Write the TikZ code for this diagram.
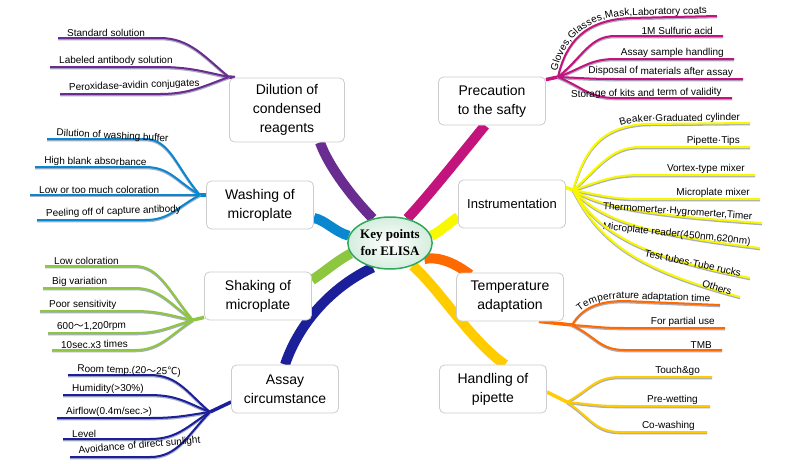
\documentclass[tikz,border=0pt]{standalone}
\usepackage{fontspec}
\setmainfont{Liberation Sans}
\newfontfamily\keyfont{Liberation Serif}
\newfontfamily\cjk{Noto Sans CJK JP}
\usetikzlibrary{shapes.geometric,decorations.text,backgrounds}

\definecolor{dilc}{HTML}{6B2C91}
\definecolor{washc}{HTML}{0A88CF}
\definecolor{shakec}{HTML}{8DC63F}
\definecolor{assayc}{HTML}{1B1F99}
\definecolor{precc}{HTML}{C3147E}
\definecolor{instrc}{HTML}{F8F800}
\definecolor{tempc}{HTML}{FF6A00}
\definecolor{handc}{HTML}{FFCC00}
\definecolor{keyc}{HTML}{2EA85A}
\definecolor{shadowc}{HTML}{A9AEC2}

\newcommand{\lblfont}{\fontsize{10}{12}\selectfont}

\tikzset{
  box/.style={draw=gray!40, line width=0.8pt, fill=white, rounded corners=5pt, align=center,
    font=\fontsize{14}{19}\selectfont, minimum width=107pt, minimum height=48pt, inner sep=2pt},
  trunk/.style={draw=#1, line width=10pt},
  stub/.style={draw=#1, line width=3.5pt},
  leaf/.style={draw=#1, line width=2pt,
    preaction={draw=shadowc, line width=2pt, transform canvas={yshift=-1.3pt}}},
  lbl/.style={font=\lblfont, inner sep=1pt},
  along/.style={postaction={decorate, decoration={text along path, text={|\lblfont|#1},
    text align={align=right, right indent=10pt}, raise=2.5pt, text color=black}}}
}

\begin{document}
\begin{tikzpicture}[x=1pt,y=-1pt]
\useasboundingbox (0,0) rectangle (800,463);

\node[ellipse, draw=keyc, line width=1.5pt, inner color=white, outer color=keyc!20,
  minimum width=75pt, minimum height=52pt, align=center, inner sep=0pt,
  font=\keyfont\bfseries\fontsize{13}{17}\selectfont] (key) at (390,243) {Key points\\for ELISA};

\node[box, minimum width=115pt, minimum height=64pt] (dil) at (287,110) {Dilution of\\condensed\\reagents};
\node[box] (wash) at (260,205) {Washing of\\microplate};
\node[box] (shake) at (258,296) {Shaking of\\microplate};
\node[box] (assay) at (285,389) {Assay\\circumstance};
\node[box] (prec) at (492,101) {Precaution\\to the safty};
\node[box, font=\fontsize{13}{17}\selectfont] (instr) at (512,204) {Instrumentation};
\node[box] (temp) at (510,297) {Temperature\\adaptation};
\node[box] (hand) at (493,389) {Handling of\\pipette};

\coordinate (dilfan) at (229,77);
\coordinate (washfan) at (200,195);
\coordinate (shakefan) at (193,320);
\coordinate (assayfan) at (210,412);
\coordinate (precfan) at (558,77);
\coordinate (instrfan) at (573,190);
\coordinate (tempfan) at (572,325);
\coordinate (handfan) at (567,402);

\begin{scope}[on background layer]
\draw[trunk=dilc] (key.125) .. controls (350,195) and (328,165) .. ([xshift=33pt]dil.south);
\draw[trunk=washc] (key.170) .. controls (335,232) and (325,220) .. ([yshift=-13pt]wash.east);
\draw[trunk=shakec] (key.195) .. controls (335,262) and (322,274) .. ([yshift=16pt]shake.east);
\draw[trunk=assayc] (key.235) .. controls (335,285) and (300,320) .. (assay.north);
\draw[trunk=precc] (key.55) .. controls (425,200) and (465,150) .. ([xshift=-7pt]prec.south);
\draw[trunk=instrc] (key.10) .. controls (440,232) and (450,222) .. ([yshift=-13pt]instr.west);
\draw[trunk=tempc] (key.-25) .. controls (440,256) and (456,264) .. ([xshift=14pt,yshift=-2pt]temp.north west);
\draw[trunk=handc] (key.-45) .. controls (440,290) and (470,340) .. ([xshift=12pt]hand.north);
\draw[stub=dilc] ([xshift=6pt]dil.north west) -- (dilfan);
\draw[stub=washc] ([yshift=10pt]wash.west) -- (washfan);
\draw[stub=shakec] ([yshift=3pt]shake.south west) -- (shakefan);
\draw[stub=assayc] ([yshift=-13pt]assay.west) -- (assayfan);
\draw[stub=precc] ([yshift=-3pt]prec.north east) -- (precfan);
\draw[stub=instrc] ([yshift=-8pt]instr.north east) -- (instrfan);
\draw[stub=tempc] ([xshift=-25pt]temp.south east) -- (tempfan);
\draw[stub=handc] ([yshift=-3pt]hand.east) -- (handfan);
\end{scope}

\foreach \n/\x/\y/\rot/\t in {1/58/38/0/Standard solution, 2/50/67/0/Labeled antibody solution,
    3/60/94/2/Peroxidase-avidin conjugates}{
  \coordinate (dil\n) at (\x,\y);
  \draw[leaf=dilc] (dilfan) .. controls (205,{77+0.5*(\y-77)}) and (190,\y) .. (160,\y) -- (dil\n);
  \node[lbl, anchor=south west, rotate=\rot] (dilt\n) at ([xshift=8pt]dil\n) {\t};
}
\foreach \n/\x/\y/\rot/\t in {1/47/139/-3/Dilution of washing buffer, 2/35/167/-1/High blank absorbance,
    3/30/195/0/Low or too much coloration, 4/37/220/2/Peeling off of capture antibody}{
  \coordinate (wash\n) at (\x,\y);
  \draw[leaf=washc] (washfan) .. controls (176,{195+0.5*(\y-195)}) and (170,\y) .. (145,\y) -- (wash\n);
  \node[lbl, anchor=south west, rotate=\rot] (washt\n) at ([xshift=8pt]wash\n) {\t};
}
\foreach \n/\x/\y/\rot/\t in {1/45/266/0/Low coloration, 2/43/288/0/Big variation, 3/40/311/0/Poor sensitivity,
    4/48/333/1/{600{\cjk ～}1,200rpm}, 5/52/350/1/10sec.x3 times}{
  \coordinate (shake\n) at (\x,\y);
  \draw[leaf=shakec] (shakefan) .. controls (170,{320+0.5*(\y-320)}) and (160,\y) .. (135,\y) -- (shake\n);
  \node[lbl, anchor=south west, rotate=\rot] (shaket\n) at ([xshift=8pt]shake\n) {\t};
}
\foreach \n/\x/\y/\rot/\t in {1/68/375/-2/{Room temp.(20{\cjk ～}25{\cjk ℃})}, 2/63/395/0/Humidity(>30\%),
    3/57/418/0/{Airflow(0.4m/sec.>)}, 4/63/439/0/Level, 5/70/457/5/Avoidance of direct sunlight}{
  \coordinate (assay\n) at (\x,\y);
  \draw[leaf=assayc] (assayfan) .. controls (188,{412+0.5*(\y-412)}) and (178,\y) .. (150,\y) -- (assay\n);
  \node[lbl, anchor=south west, rotate=\rot] (assayt\n) at ([xshift=8pt]assay\n) {\t};
}

\coordinate (prec1) at (717,16);
\draw[leaf=precc, along={Gloves,Glasses,Mask,Laboratory coats}]
  (precfan) .. controls (566,42) and (585,20) .. (630,18) -- (prec1);
\foreach \n/\x/\y/\rot/\t in {2/723/36/0/1M Sulfuric acid, 3/734/59/0/Assay sample handling,
    4/743/79/-1/Disposal of materials after assay, 5/732/98/1/Storage of kits and term of validity}{
  \coordinate (prec\n) at (\x,\y);
  \draw[leaf=precc] (precfan) .. controls (583,{77+0.5*(\y-77)}) and (590,\y) .. (615,\y) -- (prec\n);
  \node[lbl, anchor=south east, rotate=\rot] (prect\n) at ([xshift=-9pt]prec\n) {\t};
}

\coordinate (instr1) at (750,123);
\draw[leaf=instrc, along={Beaker·Graduated cylinder}]
  (instrfan) .. controls (585,150) and (600,127) .. (645,124) -- (instr1);
\foreach \n/\x/\y/\rot/\t in {2/750/147/0/Pipette·Tips, 3/755/175/0/Vortex-type mixer, 4/760/199/0/Microplate mixer}{
  \coordinate (instr\n) at (\x,\y);
  \draw[leaf=instrc] (instrfan) .. controls (598,{190+0.5*(\y-190)}) and (610,\y) .. (640,\y) -- (instr\n);
  \node[lbl, anchor=south east, rotate=\rot] (instrt\n) at ([xshift=-9pt]instr\n) {\t};
}
\foreach \n/\x/\y/\rot/\t in {5/762/223/-4/{Thermomerter·Hygromerter,Timer}, 6/760/248/-6/{Microplate reader(450nm,620nm)},
    7/750/278/-12/Test tubes·Tube rucks, 8/740/297/-18/Others}{
  \coordinate (instr\n) at (\x,\y);
  \draw[leaf=instrc] (instrfan) .. controls (600,{190+0.5*(\y-190)}) and (640,{\y-0.25*(\y-190)}) .. (instr\n);
  \node[lbl, anchor=south east, rotate=\rot] (instrt\n) at ([xshift=-9pt]instr\n) {\t};
}

\coordinate (temp1) at (720,305);
\draw[leaf=tempc, along={Temperrature adaptation time}]
  (tempfan) .. controls (582,308) and (598,301) .. (625,301) -- (temp1);
\foreach \n/\x/\y/\rot/\t in {2/725/328/0/For partial use, 3/722/350/0/TMB}{
  \coordinate (temp\n) at (\x,\y);
  \draw[leaf=tempc] (tempfan) .. controls (597,{325+0.5*(\y-325)}) and (600,\y) .. (625,\y) -- (temp\n);
  \node[lbl, anchor=south east, rotate=\rot] (tempt\n) at ([xshift=-9pt]temp\n) {\t};
}

\foreach \n/\x/\y/\rot/\t in {1/712/377/0/Touch\&go, 2/710/406/0/Pre-wetting, 3/707/432/0/Co-washing}{
  \coordinate (hand\n) at (\x,\y);
  \draw[leaf=handc] (handfan) .. controls (590,{402+0.5*(\y-402)}) and (595,\y) .. (620,\y) -- (hand\n);
  \node[lbl, anchor=south east, rotate=\rot] (handt\n) at ([xshift=-11pt]hand\n) {\t};
}
\end{tikzpicture}
\end{document}
